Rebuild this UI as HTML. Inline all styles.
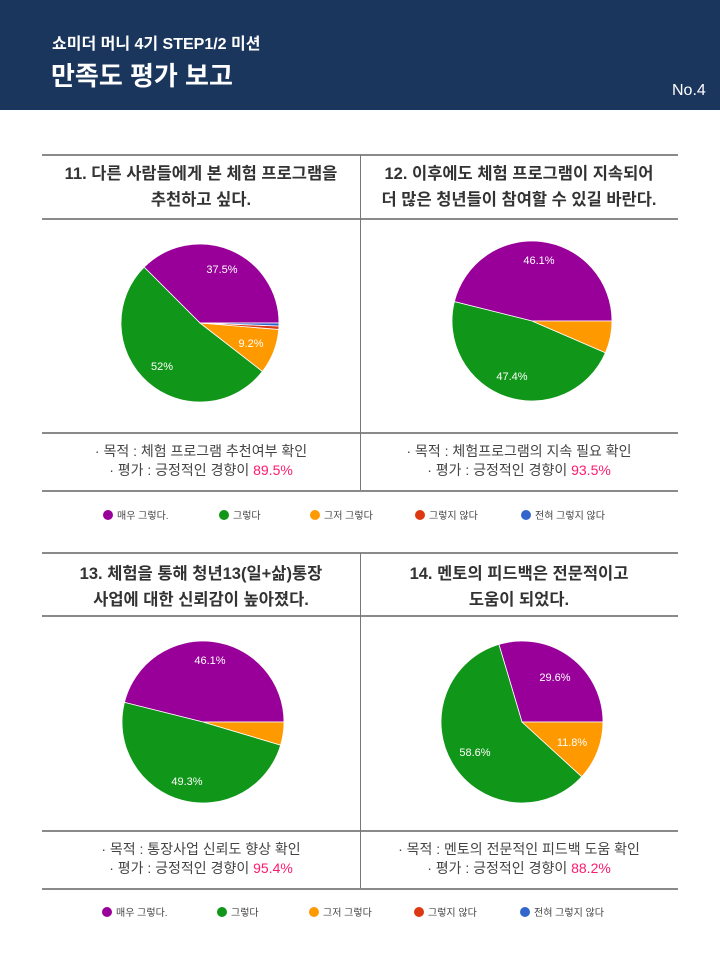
<!DOCTYPE html>
<html><head><meta charset="utf-8">
<style>
*{margin:0;padding:0;box-sizing:border-box}
body{width:720px;height:960px;background:#fff;position:relative;overflow:hidden;font-family:"Liberation Sans","Noto Sans CJK KR",sans-serif}
.hdr{position:absolute;left:0;top:0;width:720px;height:110px;background:#1b365d;color:#fff}
.a{position:absolute}
.hl{position:absolute;height:2px;background:#8a8a8a}
.vl{position:absolute;width:1px;background:#777}
.t{position:absolute;text-align:center;color:#333;font-size:16.5px;line-height:26px;font-weight:bold}
.d{position:absolute;text-align:center;color:#444;font-size:14px;line-height:19px}
.p{color:#ff1a6e}
.lg{position:absolute;font-size:10px;color:#444;white-space:nowrap}
.dot{display:inline-block;width:10px;height:10px;border-radius:50%;vertical-align:-1px;margin-right:4px}
</style></head><body>
<div class="hdr">
<div class="a" style="left:52px;top:30px;font-size:16px;font-weight:bold">쇼미더 머니 4기 STEP1/2 미션</div>
<div class="a" style="left:51px;top:56px;font-size:26px;font-weight:bold">만족도 평가 보고</div>
<div class="a" style="left:672px;top:82px;font-size:16px">No.4</div>
</div>

<div class="hl" style="left:42px;top:154px;width:636px"></div>
<div class="hl" style="left:42px;top:218px;width:636px"></div>
<div class="hl" style="left:42px;top:432px;width:636px"></div>
<div class="hl" style="left:42px;top:490px;width:636px"></div>
<div class="vl" style="left:360px;top:155px;height:335px"></div>
<div class="t" style="left:42px;top:161px;width:318px">11. 다른 사람들에게 본 체험 프로그램을<br>추천하고 싶다.</div>
<div class="t" style="left:360px;top:161px;width:318px">12. 이후에도 체험 프로그램이 지속되어<br>더 많은 청년들이 참여할 수 있길 바란다.</div>
<div class="d" style="left:42px;top:442px;width:318px">· 목적 : 체험 프로그램 추천여부 확인<br>· 평가 : 긍정적인 경향이 <span class="p">89.5%</span></div>
<div class="d" style="left:360px;top:442px;width:318px">· 목적 : 체험프로그램의 지속 필요 확인<br>· 평가 : 긍정적인 경향이 <span class="p">93.5%</span></div>

<div class="hl" style="left:42px;top:552px;width:636px"></div>
<div class="hl" style="left:42px;top:615px;width:636px"></div>
<div class="hl" style="left:42px;top:830px;width:636px"></div>
<div class="hl" style="left:42px;top:888px;width:636px"></div>
<div class="vl" style="left:360px;top:553px;height:335px"></div>
<div class="t" style="left:42px;top:561px;width:318px">13. 체험을 통해 청년13(일+삶)통장<br>사업에 대한 신뢰감이 높아졌다.</div>
<div class="t" style="left:360px;top:561px;width:318px">14. 멘토의 피드백은 전문적이고<br>도움이 되었다.</div>
<div class="d" style="left:42px;top:840px;width:318px">· 목적 : 통장사업 신뢰도 향상 확인<br>· 평가 : 긍정적인 경향이 <span class="p">95.4%</span></div>
<div class="d" style="left:360px;top:840px;width:318px">· 목적 : 멘토의 전문적인 피드백 도움 확인<br>· 평가 : 긍정적인 경향이 <span class="p">88.2%</span></div>

<div class="lg" style="left:103px;top:507px"><span class="dot" style="background:#990099"></span>매우 그렇다.</div>
<div class="lg" style="left:219px;top:507px"><span class="dot" style="background:#109618"></span>그렇다</div>
<div class="lg" style="left:310px;top:507px"><span class="dot" style="background:#ff9900"></span>그저 그렇다</div>
<div class="lg" style="left:415px;top:507px"><span class="dot" style="background:#dc3912"></span>그렇지 않다</div>
<div class="lg" style="left:521px;top:507px"><span class="dot" style="background:#3366cc"></span>전혀 그렇지 않다</div>

<div class="lg" style="left:102px;top:904px"><span class="dot" style="background:#990099"></span>매우 그렇다.</div>
<div class="lg" style="left:217px;top:904px"><span class="dot" style="background:#109618"></span>그렇다</div>
<div class="lg" style="left:309px;top:904px"><span class="dot" style="background:#ff9900"></span>그저 그렇다</div>
<div class="lg" style="left:414px;top:904px"><span class="dot" style="background:#dc3912"></span>그렇지 않다</div>
<div class="lg" style="left:520px;top:904px"><span class="dot" style="background:#3366cc"></span>전혀 그렇지 않다</div>

<svg id="s" class="a" style="left:0;top:0" width="720" height="960" font-family="Liberation Sans, sans-serif" font-size="11" fill="#fff">
<g id="g"></g>
<text x="222" y="273" text-anchor="middle">37.5%</text>
<text x="162" y="370" text-anchor="middle">52%</text>
<text x="251" y="347" text-anchor="middle">9.2%</text>
<text x="539" y="264" text-anchor="middle">46.1%</text>
<text x="512" y="380" text-anchor="middle">47.4%</text>
<text x="210" y="664" text-anchor="middle">46.1%</text>
<text x="187" y="785" text-anchor="middle">49.3%</text>
<text x="555" y="681" text-anchor="middle">29.6%</text>
<text x="475" y="756" text-anchor="middle">58.6%</text>
<text x="572" y="746" text-anchor="middle">11.8%</text>
</svg>
<script>
var C=["#990099","#109618","#ff9900","#dc3912","#3366cc"];
var pies=[[200,323,79,[37.5,52,9.2,0.7,0.6]],[532,321,80,[46.1,47.4,6.5,0,0]],[203,722,81,[46.1,49.3,4.6,0,0]],[522,722,81,[29.6,58.6,11.8,0,0]]];
var h="";
pies.forEach(function(p){var cx=p[0],cy=p[1],r=p[2],a=0;
p[3].forEach(function(v,i){if(!v)return;var a2=a+v*3.6;
var x1=cx+r*Math.cos(a*Math.PI/180),y1=cy-r*Math.sin(a*Math.PI/180);
var x2=cx+r*Math.cos(a2*Math.PI/180),y2=cy-r*Math.sin(a2*Math.PI/180);
h+='<path d="M'+cx+' '+cy+'L'+x1.toFixed(2)+' '+y1.toFixed(2)+'A'+r+' '+r+' 0 '+(v>50?1:0)+' 0 '+x2.toFixed(2)+' '+y2.toFixed(2)+'Z" fill="'+C[i]+'" stroke="#fff" stroke-width="0.8"/>';
a=a2;});});
document.getElementById("g").innerHTML=h;
</script>
</body></html>
